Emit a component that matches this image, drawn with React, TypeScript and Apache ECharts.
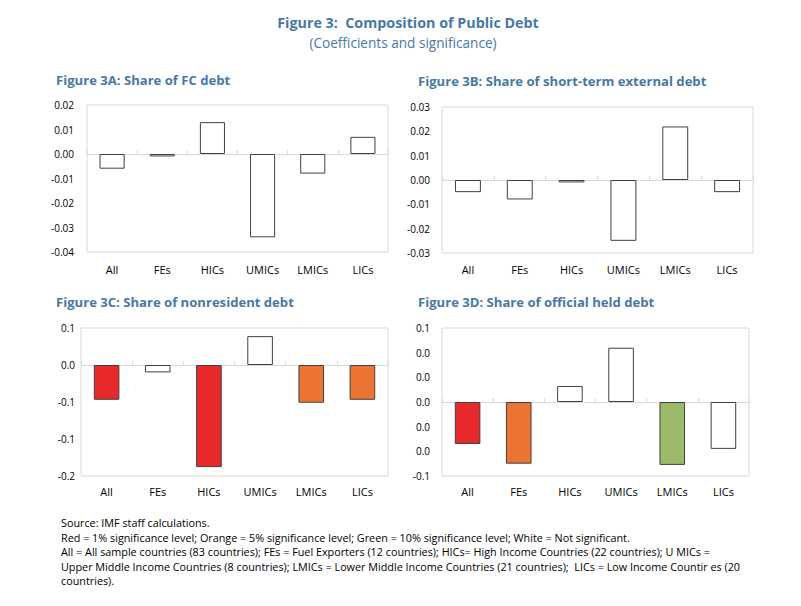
import React, { useEffect, useRef } from "react";
import * as echarts from "echarts";

const categories = ["All", "FEs", "HICs", "UMICs", "LMICs", "LICs"];

// Figure 3A: Share of FC debt
const fcDebt = [-0.006, -0.001, 0.013, -0.034, -0.008, 0.007];
const fcSignificance = ["none", "none", "none", "none", "none", "none"];
// Figure 3B: Share of short-term external debt
const shortTermDebt = [-0.005, -0.008, -0.001, -0.025, 0.022, -0.005];
const shortTermSignificance = ["none", "none", "none", "none", "none", "none"];
// Figure 3C: Share of nonresident debt
const nonresidentDebt = [-0.047, -0.01, -0.138, 0.039, -0.051, -0.047];
const nonresidentSignificance = ["1%", "none", "1%", "none", "5%", "5%"];
// Figure 3D: Share of official held debt
const officialDebt = [-0.034, -0.05, 0.013, 0.044, -0.051, -0.038];
const officialSignificance = ["1%", "5%", "none", "none", "10%", "none"];

const sigColors: Record<string, string> = {
  "1%": "#e8292c",
  "5%": "#ec7433",
  "10%": "#9bbb6b",
  none: "#ffffff",
};

const panelTitles = [
  "Figure 3A: Share of FC debt",
  "Figure 3B: Share of short-term external debt",
  "Figure 3C: Share of nonresident debt",
  "Figure 3D: Share of official held debt",
];

const footnotes = [
  "Source: IMF staff calculations.",
  "Red = 1% significance level; Orange = 5% significance level; Green = 10% significance level; White = Not significant.",
  "All = All sample countries (83 countries); FEs = Fuel Exporters (12 countries); HICs= High Income Countries (22 countries); U MICs =",
  "Upper Middle Income Countries (8 countries); LMICs = Lower Middle Income Countries (21 countries);  LICs = Low Income Countir es (20",
  "countries).",
];

const BLUE = "#4878a8";
const FONT = "Open Sans";

const fmt = (d: number) => (v: number) => {
  const p = Math.pow(10, d);
  const a = Math.round(Math.abs(v) * p + 1e-9) / p;
  return (v < 0 && a > 0 ? "-" : "") + a.toFixed(d);
};

const panels = [
  { values: fcDebt, sig: fcSignificance, min: -0.04, max: 0.02, interval: 0.01, dec: 2,
    grid: { left: 87, top: 105, width: 301, height: 147 }, yMargin: 13, xMargin: 12,
    title: { x: 56, y: 79.5 } },
  { values: shortTermDebt, sig: shortTermSignificance, min: -0.03, max: 0.03, interval: 0.01, dec: 2,
    grid: { left: 442, top: 107, width: 311, height: 146 }, yMargin: 12, xMargin: 11,
    title: { x: 418, y: 81 } },
  { values: nonresidentDebt, sig: nonresidentSignificance, min: -0.15, max: 0.05, interval: 0.05, dec: 1,
    grid: { left: 81, top: 328, width: 307, height: 148 }, yMargin: 6, xMargin: 10,
    title: { x: 56, y: 302 } },
  { values: officialDebt, sig: officialSignificance, min: -0.06, max: 0.06, interval: 0.02, dec: 1,
    grid: { left: 442, top: 328, width: 307, height: 148 }, yMargin: 12, xMargin: 10,
    title: { x: 418, y: 302 } },
];

export default function App() {
  const ref = useRef<HTMLDivElement>(null);
  useEffect(() => {
    if (!ref.current) return;
    const chart = echarts.init(ref.current, undefined, { renderer: "svg" });

    const grid = panels.map((p) => ({
      ...p.grid,
      show: true,
      borderColor: "#d9d9d9",
      borderWidth: 1,
      backgroundColor: "#ffffff",
      containLabel: false,
    }));

    const labelAxes = panels.map((p, i) => ({
      type: "category",
      gridIndex: i,
      data: categories,
      position: "bottom",
      axisLine: { show: false, onZero: false },
      axisTick: { show: false },
      axisLabel: { color: "#000", fontSize: 11, fontFamily: FONT, margin: p.xMargin },
      splitLine: { show: false },
    }));

    const zeroAxes = panels.map((p, i) => ({
      type: "category",
      gridIndex: i,
      data: categories,
      position: "bottom",
      axisLine: { show: true, onZero: true, lineStyle: { color: "#d9d9d9", width: 1 } },
      axisTick: { show: true, inside: true, length: 4, lineStyle: { color: "#d9d9d9" } },
      axisLabel: { show: false },
      splitLine: { show: false },
    }));

    const yAxis = panels.map((p, i) => ({
      type: "value",
      gridIndex: i,
      min: p.min,
      max: p.max,
      interval: p.interval,
      axisLine: { show: false },
      axisTick: { show: false },
      splitLine: { show: false },
      axisLabel: {
        color: "#000",
        fontSize: 10,
        fontFamily: FONT,
        margin: p.yMargin,
        formatter: fmt(p.dec),
      },
    }));

    const series = panels.map((p, i) => ({
      type: "bar",
      xAxisIndex: i,
      yAxisIndex: i,
      barWidth: "50%",
      data: p.values.map((v, j) => ({
        value: v,
        itemStyle: { color: sigColors[p.sig[j]], borderColor: "#404040", borderWidth: 1 },
      })),
    }));

    const graphic: any[] = [
      {
        type: "text",
        x: 408,
        y: 22,
        style: {
          text: "Figure 3:  Composition of Public Debt",
          fill: BLUE,
          font: `bold 14.3px "${FONT}"`,
          textAlign: "center",
          textVerticalAlign: "middle",
        },
      },
      {
        type: "text",
        x: 403,
        y: 42,
        style: {
          text: "(Coefficients and significance)",
          fill: BLUE,
          font: `13.6px "${FONT}"`,
          textAlign: "center",
          textVerticalAlign: "middle",
        },
      },
      ...panels.map((p, i) => ({
        type: "text",
        x: p.title.x,
        y: p.title.y,
        style: {
          text: panelTitles[i],
          fill: BLUE,
          font: `bold 13.1px "${FONT}"`,
          textAlign: "left",
          textVerticalAlign: "middle",
        },
      })),
      ...footnotes.map((t, i) => ({
        type: "text",
        x: 61,
        y: 522.5 + i * 14.5,
        style: {
          text: t,
          fill: "#000",
          font: `10.8px "${FONT}"`,
          textAlign: "left",
          textVerticalAlign: "middle",
        },
      })),
    ];

    chart.setOption({
      animation: false,
      backgroundColor: "#ffffff",
      grid,
      xAxis: [...labelAxes, ...zeroAxes],
      yAxis,
      series,
      graphic,
    });
    return () => chart.dispose();
  }, []);

  return (
    <div
      ref={ref}
      style={{ position: "fixed", left: 0, top: 0, width: 801, height: 606, background: "#fff" }}
    />
  );
}
